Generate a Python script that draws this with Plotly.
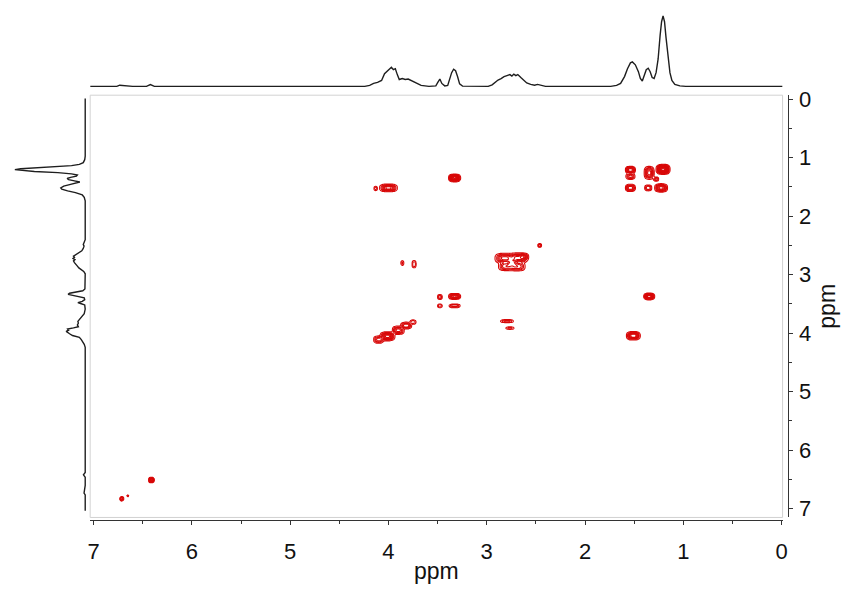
import numpy as np
import plotly.graph_objects as go

# ---------------- 1D proton projection ----------------
spec_ppm = [7.035, 6.764, 6.734, 6.704, 6.673, 6.643, 6.603, 6.462, 6.422, 6.382, 6.302, 4.241,
            4.191, 4.151, 4.111, 4.070, 4.040, 4.010, 3.990, 3.970, 3.950, 3.930, 3.910, 3.890,
            3.859, 3.829, 3.799, 3.769, 3.739, 3.709, 3.668, 3.588, 3.518, 3.498, 3.477, 3.457,
            3.427, 3.397, 3.377, 3.357, 3.337, 3.317, 3.297, 3.276, 3.246, 2.985, 2.945, 2.915,
            2.885, 2.854, 2.824, 2.794, 2.764, 2.744, 2.724, 2.704, 2.684, 2.653, 2.623, 2.593,
            2.553, 2.513, 2.483, 2.452, 2.402, 1.739, 1.679, 1.638, 1.598, 1.568, 1.538, 1.518,
            1.488, 1.457, 1.437, 1.417, 1.397, 1.377, 1.357, 1.337, 1.317, 1.297, 1.277, 1.256,
            1.236, 1.221, 1.206, 1.191, 1.176, 1.156, 1.136, 1.116, 1.086, 1.035, 0.975, -0.01]
spec_int = [0, 0, 1.2, 1.0, 1.2, 0.5, 0, 0, 1.8, 0, 0, 0,
            1.0, 3.0, 4.0, 6.0, 13.0, 16.0, 18.0, 19.5, 17.0, 18.0, 12.0, 7.0,
            8.0, 7.0, 7.5, 6.0, 5.0, 3.0, 1.0, 0, 0.5, 4.0, 7.5, 3.0,
            0.5, 1.0, 8.0, 14.0, 17.5, 16.0, 10.0, 2.5, 0.3, 0, 1.5, 4.5,
            6.5, 8.0, 10.0, 11.0, 12.0, 10.5, 12.5, 11.0, 12.0, 9.0, 6.0, 3.5,
            2.0, 1.2, 2.0, 1.0, 0, 0, 1.0, 3.0, 10.0, 18.0, 24.0, 25.0,
            22.0, 15.0, 8.0, 5.5, 11.0, 17.0, 18.5, 15.0, 9.0, 8.0, 14.0, 28.0,
            52.0, 66.0, 72.0, 66.0, 50.0, 30.0, 14.0, 6.0, 2.0, 0.5, 0, 0]

# ---------------- 2D cross peaks ----------------
# centre F2 (x, ppm), centre F1 (y, ppm), extent of outer contour (ppm), relative intensity
peak_x = [1.206, 1.347, 1.538, 1.538, 1.538, 1.357, 1.226, 1.277,
          4.000, 4.130, 3.327, 3.859, 3.739,
          3.477, 3.327, 3.477, 3.327,
          4.010, 4.100, 3.900, 3.820, 3.750,
          2.820, 2.680, 2.800, 2.690, 2.620, 2.740, 2.462,
          2.794, 2.764, 1.347, 1.508, 6.412, 6.714, 6.653]
peak_y = [1.200, 1.260, 1.210, 1.320, 1.517, 1.517, 1.517, 1.367,
          1.517, 1.527, 1.347, 2.801, 2.821,
          3.382, 3.372, 3.533, 3.533,
          4.054, 4.110, 3.950, 3.870, 3.810,
          2.720, 2.715, 2.855, 2.860, 2.690, 2.790, 2.500,
          3.794, 3.914, 3.372, 4.044, 6.510, 6.830, 6.780]
peak_wx = [0.14, 0.10, 0.10, 0.09, 0.10, 0.07, 0.13, 0.05,
           0.18, 0.03, 0.12, 0.025, 0.04,
           0.045, 0.12, 0.045, 0.11,
           0.15, 0.10, 0.12, 0.11, 0.06,
           0.19, 0.20, 0.16, 0.16, 0.08, 0.10, 0.035,
           0.13, 0.08, 0.11, 0.14, 0.055, 0.035, 0.015]
peak_wy = [0.17, 0.22, 0.12, 0.10, 0.12, 0.10, 0.14, 0.07,
           0.13, 0.07, 0.13, 0.08, 0.12,
           0.08, 0.10, 0.06, 0.06,
           0.15, 0.12, 0.14, 0.11, 0.07,
           0.17, 0.17, 0.15, 0.15, 0.10, 0.10, 0.06,
           0.05, 0.04, 0.11, 0.14, 0.09, 0.07, 0.03]
peak_amp = [3.0, 1.2, 1.3, 0.8, 1.1, 0.7, 1.4, 0.6,
            1.4, 0.5, 2.4, 0.4, 0.5,
            0.7, 1.4, 0.5, 0.7,
            1.6, 0.8, 1.0, 0.9, 0.5,
            1.2, 1.2, 0.9, 0.9, 0.6, 0.6, 0.7,
            0.6, 0.4, 1.9, 1.5, 1.6, 0.9, 0.35]

x_ticks = [0, 1, 2, 3, 4, 5, 6, 7]
y_ticks = [0, 1, 2, 3, 4, 5, 6, 7]

# ---------------- contour grid built from the peak list ----------------
LOW = 0.1
P = 3.0  # rounded-rectangle peak shape
gx = np.arange(-0.02, 7.04, 0.01)
gy = np.arange(-0.07, 7.16, 0.0167)
GX, GY = np.meshgrid(gx, gy)
Z = np.zeros_like(GX)
for cx, cy, wx, wy, a in zip(peak_x, peak_y, peak_wx, peak_wy, peak_amp):
    k = 2 * (2 * np.log(a / LOW)) ** (1 / P)
    sx, sy = wx / k, wy / k
    Z += a * np.exp(-0.5 * (np.abs((GX - cx) / sx) ** P + np.abs((GY - cy) / sy) ** P))
Z = Z.astype(np.float32)

RED = "#d80808"
FONT = "Liberation Sans, Arial, sans-serif"
AX = "#333333"

fig = go.Figure()
fig.add_trace(go.Contour(
    x=gx, y=gy, z=Z, xaxis="x", yaxis="y",
    contours=dict(start=LOW, end=3.0, size=0.2, coloring="lines"),
    colorscale=[[0, RED], [1, RED]], showscale=False,
    line=dict(width=1.1, smoothing=1), hoverinfo="skip"))

fig.add_trace(go.Scatter(x=spec_ppm, y=spec_int, mode="lines", xaxis="x2", yaxis="y2",
                         line=dict(color="#1e1e1e", width=1.4), hoverinfo="skip"))
fig.add_trace(go.Scatter(x=spec_int, y=spec_ppm, mode="lines", xaxis="x3", yaxis="y3",
                         line=dict(color="#1e1e1e", width=1.4), hoverinfo="skip"))

W, H = 847, 592
xd = [88 / W, 787 / W]
yd = [1 - 520 / H, 1 - 89 / H]

tickfont = dict(family=FONT, size=22, color="#111")
titlefont = dict(family=FONT, size=23, color="#111")

fig.update_layout(
    width=W, height=H, margin=dict(l=0, r=0, t=0, b=0),
    paper_bgcolor="white", plot_bgcolor="white", showlegend=False,
    xaxis=dict(domain=xd, range=[7.035, -0.01], anchor="free", position=1 - 523 / H,
               tickmode="array", tickvals=x_ticks, ticktext=[str(v) for v in x_ticks],
               showgrid=False, zeroline=False, showline=True, linecolor=AX, linewidth=1,
               ticks="outside", ticklen=4, tickcolor=AX, tickfont=tickfont,
               ticklabelstandoff=7,
               minor=dict(tickvals=[v + 0.5 for v in x_ticks[:-1]], ticks="outside",
                          ticklen=3, tickcolor=AX),
               title=dict(text="ppm", font=titlefont, standoff=0)),
    yaxis=dict(domain=yd, range=[7.15, -0.067], anchor="free", position=792 / W,
               side="right", tickmode="array", tickvals=y_ticks,
               ticktext=[str(v) for v in y_ticks],
               showgrid=False, zeroline=False, showline=True, linecolor=AX, linewidth=1,
               ticks="outside", ticklen=4, tickcolor=AX, tickfont=tickfont,
               ticklabelstandoff=2,
               minor=dict(tickvals=[v + 0.5 for v in y_ticks[:-1]], ticks="outside",
                          ticklen=3, tickcolor=AX),
               title=dict(text="ppm", font=titlefont, standoff=8)),
    xaxis2=dict(domain=xd, matches="x", anchor="y2", visible=False),
    yaxis2=dict(domain=[1 - 82 / H, 1 - 2 / H], range=[-2, 78], anchor="x2", visible=False),
    xaxis3=dict(domain=[4 / W, 87 / W], range=[80.1, -4.06], anchor="y3", visible=False),
    yaxis3=dict(domain=yd, matches="y", anchor="x3", visible=False),
    shapes=[dict(type="rect", xref="paper", yref="paper", x0=xd[0], x1=xd[1],
                 y0=yd[0], y1=yd[1], line=dict(color="#d2d2d2", width=1), layer="below")],
)

fig.write_html("out.html")
